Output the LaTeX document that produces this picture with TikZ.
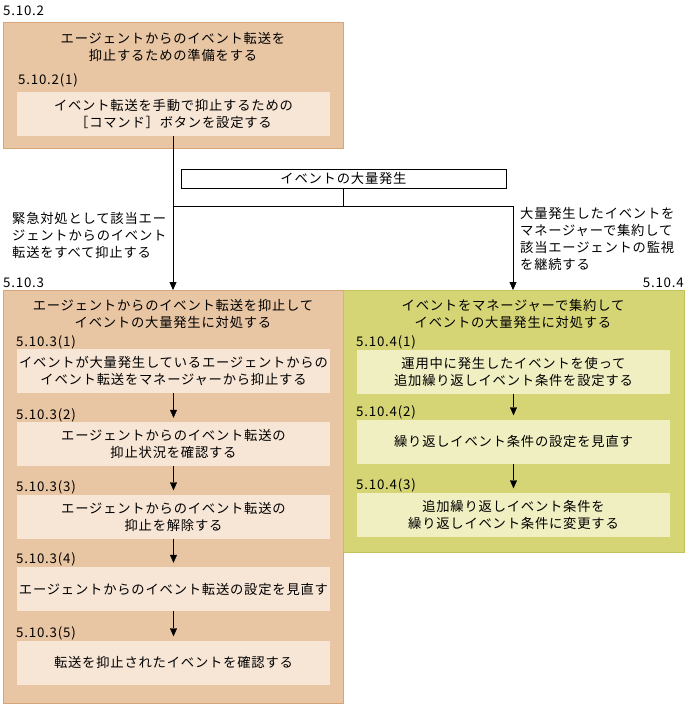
\documentclass[tikz,border=0pt]{standalone}
\usepackage{fontspec}
\setmainfont[LetterSpace=6]{Noto Sans CJK JP}
\usepackage{tikz}
\usetikzlibrary{arrows.meta,positioning}
\definecolor{tanfill}{RGB}{232,197,163}
\definecolor{tanline}{RGB}{214,166,120}
\definecolor{tanbox}{RGB}{247,229,213}
\definecolor{olivefill}{RGB}{214,213,118}
\definecolor{oliveline}{RGB}{196,194,90}
\definecolor{olivebox}{RGB}{240,239,194}

\begin{document}
\begin{tikzpicture}[x=1pt,y=-1pt]
    \tikzstyle{every node}+=[inner sep=0pt,font=\fontsize{13.3}{17}\selectfont]
    \tikzstyle{tanstep}=[fill=tanbox,minimum width=313pt,minimum height=44pt,align=center]
    \tikzstyle{olivestep}=[fill=olivebox,minimum width=313pt,minimum height=44pt,align=center]
    \tikzstyle{secno}=[anchor=west]
    \tikzstyle{flow}=[-{Triangle[length=8pt,width=7pt]}]
    \useasboundingbox (0,0) rectangle (687,707);
    % 5.10.2
    \draw [tanline,fill=tanfill] (3,22) rectangle (343,148);
    \node [secno] (n2) at (3,11) {5.10.2};
    \node [align=center] (t2) at (173,46.5) {エージェントからのイベント転送を\\抑止するための準備をする};
    \node [secno] (n21) at (18,80) {5.10.2(1)};
    \node [tanstep] (p21) at (173.5,113.5) {イベント転送を手動で抑止するための\\［コマンド］ボタンを設定する};
    % branch
    \node [draw,minimum width=325pt,minimum height=19pt] (ev) at (343.5,178.5) {イベントの大量発生};
    \coordinate (jl) at (173,206);
    \coordinate (jr) at (513,206);
    \coordinate (in3) at (173,290);
    \coordinate (in4) at (513,290);
    \draw (ev) -- (ev |- jl);
    \draw (jl) -- (jr);
    \draw [flow] (p21.south -| jl) -- (in3);
    \draw [flow] (jr) -- (in4);
    \node [anchor=west,align=left] (why3) at (12,235) {緊急対処として該当エー\\ジェントからのイベント\\転送をすべて抑止する};
    \node [anchor=west,align=left] (why4) at (520,238.5) {大量発生したイベントを\\マネージャーで集約して\\該当エージェントの監視\\を継続する};
    % 5.10.3
    \draw [tanline,fill=tanfill] (3,290) rectangle (343,703);
    \node [secno] (n3) at (3,283) {5.10.3};
    \node [align=center] (t3) at (173,313.5) {エージェントからのイベント転送を抑止して\\イベントの大量発生に対処する};
    \node [secno] (n31) at (16,342) {5.10.3(1)};
    \node [tanstep] (p31) at (173.5,371) {イベントが大量発生しているエージェントからの\\イベント転送をマネージャーから抑止する};
    \node [secno] (n32) at (16,415) {5.10.3(2)};
    \node [tanstep] (p32) at (173.5,444) {エージェントからのイベント転送の\\抑止状況を確認する};
    \node [secno] (n33) at (16,487) {5.10.3(3)};
    \node [tanstep] (p33) at (173.5,516.5) {エージェントからのイベント転送の\\抑止を解除する};
    \node [secno] (n34) at (16,559) {5.10.3(4)};
    \node [tanstep] (p34) at (173.5,589) {エージェントからのイベント転送の設定を見直す};
    \node [secno] (n35) at (16,633) {5.10.3(5)};
    \node [tanstep] (p35) at (173.5,662.5) {転送を抑止されたイベントを確認する};
    \draw [flow,shorten >=4pt] (p31) -- (p32);
    \draw [flow,shorten >=4pt] (p32) -- (p33);
    \draw [flow,shorten >=4pt] (p33) -- (p34);
    \draw [flow,shorten >=4pt] (p34) -- (p35);
    % 5.10.4
    \draw [oliveline,fill=olivefill] (343,290) rectangle (684,552);
    \node [anchor=east] (n4) at (684,283) {5.10.4};
    \node [align=center] (t4) at (513,313.5) {イベントをマネージャーで集約して\\イベントの大量発生に対処する};
    \node [secno] (n41) at (356,342) {5.10.4(1)};
    \node [olivestep] (p41) at (513.5,371.5) {運用中に発生したイベントを使って\\追加繰り返しイベント条件を設定する};
    \node [secno] (n42) at (356,412) {5.10.4(2)};
    \node [olivestep] (p42) at (513.5,441.5) {繰り返しイベント条件の設定を見直す};
    \node [secno] (n43) at (356,485) {5.10.4(3)};
    \node [olivestep] (p43) at (513.5,514.5) {追加繰り返しイベント条件を\\繰り返しイベント条件に変更する};
    \draw [flow,shorten >=4pt] (p41) -- (p42);
    \draw [flow,shorten >=4pt] (p42) -- (p43);
  \end{tikzpicture}
\end{document}
